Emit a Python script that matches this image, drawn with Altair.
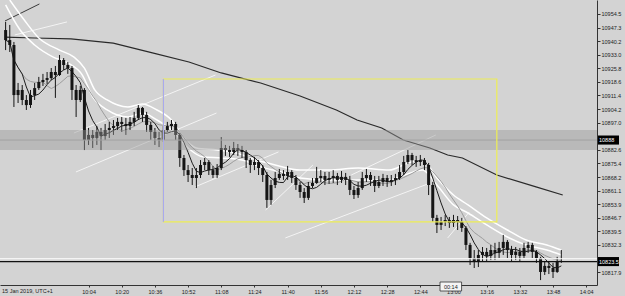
import altair as alt
import pandas as pd

# ---------------- data ----------------
start_minute = 564          # 09:24, 2-minute candles
open_first = 10946.0
close = [10940.7, 10938.1, 10911.6, 10914.3, 10909.0, 10906.3, 10911.6, 10915.3, 10918.5, 10919.6,
         10920.6, 10923.8, 10922.2, 10930.2, 10927.5, 10925.9, 10914.3, 10909.0, 10914.3, 10887.8,
         10890.5, 10888.9, 10892.1, 10889.9, 10893.1, 10894.2, 10895.2, 10897.4, 10896.3, 10895.2,
         10897.4, 10899.5, 10904.8, 10901.1, 10895.8, 10892.1, 10888.9, 10887.8, 10893.1, 10895.2,
         10896.3, 10890.5, 10878.3, 10871.9, 10869.3, 10867.7, 10869.3, 10874.6, 10876.2, 10871.9,
         10869.3, 10873.0, 10883.6, 10882.5, 10881.5, 10883.6, 10882.5, 10881.5, 10877.2, 10874.6,
         10876.2, 10873.0, 10869.3, 10856.1, 10864.0, 10867.7, 10869.9, 10868.8, 10870.9, 10867.7,
         10864.0, 10860.3, 10857.2, 10863.5, 10865.1, 10867.7, 10868.8, 10866.7, 10867.7, 10868.8,
         10866.7, 10868.3, 10866.7, 10861.4, 10858.7, 10862.4, 10867.7, 10869.3, 10866.7, 10863.5,
         10865.6, 10867.7, 10865.6, 10866.7, 10867.7, 10870.9, 10876.2, 10879.9, 10877.2, 10876.2,
         10877.2, 10874.6, 10864.0, 10846.6, 10842.9, 10844.5, 10845.5, 10843.9, 10845.5, 10844.5,
         10841.3, 10832.3, 10825.4, 10823.3, 10827.0, 10828.6, 10826.5, 10829.6, 10828.1, 10830.7,
         10833.9, 10829.6, 10827.0, 10828.6, 10826.5, 10830.7, 10832.3, 10828.6, 10825.4, 10818.0,
         10821.2, 10820.1, 10818.0, 10823.3, 10823.5]
high = [10950.3, 10948.7, 10939.7, 10918.0, 10916.9, 10911.6, 10914.3, 10918.0, 10921.2, 10922.8,
        10923.8, 10925.9, 10927.0, 10932.8, 10931.2, 10929.1, 10927.0, 10916.9, 10916.4, 10915.3,
        10894.2, 10893.1, 10895.2, 10894.2, 10896.3, 10897.4, 10898.4, 10899.5, 10900.0, 10899.5,
        10900.0, 10902.7, 10906.3, 10905.3, 10902.7, 10897.4, 10894.2, 10892.1, 10895.2, 10897.4,
        10898.4, 10897.4, 10891.5, 10879.9, 10874.6, 10873.0, 10873.0, 10877.2, 10878.3, 10877.2,
        10874.1, 10875.1, 10889.4, 10885.2, 10884.7, 10886.8, 10885.7, 10884.7, 10882.5, 10878.3,
        10878.9, 10877.2, 10874.6, 10870.9, 10866.7, 10870.9, 10872.5, 10871.9, 10874.1, 10871.9,
        10869.3, 10865.6, 10862.4, 10865.6, 10867.7, 10873.6, 10871.9, 10870.9, 10870.9, 10871.9,
        10870.4, 10871.4, 10870.4, 10868.8, 10863.5, 10865.6, 10870.9, 10872.5, 10870.9, 10868.8,
        10868.8, 10869.9, 10869.3, 10869.3, 10869.9, 10874.6, 10879.4, 10882.5, 10881.0, 10879.4,
        10879.9, 10878.3, 10875.7, 10865.6, 10848.2, 10847.1, 10848.2, 10847.1, 10848.2, 10847.6,
        10846.6, 10842.3, 10833.4, 10829.6, 10829.6, 10831.2, 10830.7, 10832.3, 10833.4, 10833.9,
        10837.6, 10834.9, 10831.8, 10831.2, 10830.7, 10833.4, 10833.9, 10833.4, 10829.6, 10826.0,
        10823.3, 10823.3, 10822.8, 10826.0, 10829.6]
low = [10935.4, 10934.4, 10905.3, 10907.4, 10906.3, 10903.7, 10904.8, 10909.0, 10914.3, 10916.4,
       10917.5, 10919.6, 10910.1, 10921.7, 10924.9, 10922.8, 10909.0, 10900.0, 10907.9, 10882.5,
       10885.2, 10883.6, 10885.2, 10882.5, 10887.8, 10888.9, 10890.5, 10893.1, 10892.1, 10890.5,
       10893.1, 10895.2, 10898.4, 10897.4, 10892.1, 10887.8, 10885.2, 10884.1, 10886.8, 10892.1,
       10893.1, 10887.8, 10873.6, 10868.8, 10865.6, 10864.0, 10862.4, 10867.7, 10871.9, 10869.3,
       10867.7, 10867.7, 10871.9, 10879.4, 10878.9, 10879.9, 10879.4, 10878.3, 10873.0, 10870.4,
       10871.9, 10869.3, 10865.6, 10851.9, 10853.5, 10862.4, 10866.7, 10866.7, 10866.7, 10865.1,
       10861.4, 10857.2, 10854.5, 10856.1, 10862.4, 10864.6, 10865.6, 10864.0, 10864.6, 10865.1,
       10864.0, 10865.1, 10864.0, 10858.7, 10856.6, 10857.2, 10861.4, 10865.6, 10863.5, 10860.3,
       10862.4, 10863.5, 10863.0, 10863.5, 10864.0, 10866.7, 10869.3, 10875.1, 10874.6, 10873.6,
       10874.1, 10871.9, 10858.7, 10844.5, 10838.6, 10840.2, 10842.3, 10841.3, 10841.8, 10840.2,
       10839.2, 10829.6, 10821.7, 10820.1, 10820.6, 10823.3, 10823.3, 10824.3, 10824.3, 10825.4,
       10827.0, 10825.4, 10823.3, 10824.3, 10823.3, 10825.4, 10828.1, 10825.4, 10822.8, 10813.7,
       10816.4, 10816.9, 10814.8, 10817.5, 10822.8]

# slow moving average
slow_t = [563.7, 577.9, 595.5, 615.9, 634.8, 652.4, 668.0, 687.0, 706.0, 723.5, 733.5, 745.4,
          755.8, 768.6, 777.2, 784.3, 800.9, 819.8, 832.7]
slow_p = [10942.3, 10941.8, 10941.3, 10939.1, 10933.9, 10929.1, 10923.3, 10918.0, 10911.1, 10903.7,
          10898.4, 10894.2, 10887.8, 10883.6, 10879.9, 10878.3, 10869.3, 10863.0, 10858.7]

# white envelope lines
env_up_t = [566, 573, 580, 590, 597, 602, 607, 613, 623, 630, 637, 644, 650, 656, 666, 675, 685,
            694, 706, 720, 734, 749, 758, 765, 772, 780, 787, 796, 806, 815, 825, 832]
env_up_p = [10961.9, 10951.3, 10941.8, 10935.4, 10931.7, 10925.9, 10914.3, 10909.0, 10905.3,
            10906.9, 10903.7, 10898.4, 10888.9, 10883.6, 10882.5, 10881.0, 10877.2, 10874.6,
            10871.9, 10871.9, 10873.0, 10871.9, 10875.7, 10877.2, 10867.7, 10858.7, 10853.5,
            10846.6, 10840.2, 10834.9, 10832.3, 10829.6]
env_lo_t = [564, 571, 578, 587, 594, 601, 606, 613, 623, 630, 637, 644, 652, 659, 668, 678, 687,
            697, 706, 720, 734, 749, 758, 765, 772, 780, 787, 796, 806, 815, 825, 832]
env_lo_p = [10959.3, 10946.0, 10938.1, 10931.7, 10928.6, 10922.2, 10910.6, 10903.7, 10900.0,
            10902.1, 10898.4, 10893.1, 10883.6, 10878.9, 10878.3, 10877.2, 10873.6, 10870.9,
            10867.7, 10866.7, 10866.7, 10866.7, 10869.9, 10871.9, 10864.0, 10853.5, 10849.2,
            10842.9, 10836.5, 10832.3, 10829.6, 10827.0]

# drawn trend lines: start time, start price, end time, end price
tl_t1 = [568.4, 596.9, 597.9, 655.3, 689.4, 698.9, 730.7, 777.2]
tl_p1 = [10943.4, 10891.5, 10870.9, 10863.0, 10850.8, 10836.0, 10869.3, 10836.0]
tl_t2 = [593.6, 665.2, 665.7, 695.6, 712.2, 767.7, 771.5, 787.6]
tl_p2 = [10950.3, 10922.2, 10902.1, 10881.5, 10874.6, 10864.6, 10890.5, 10849.7]
dark_tl = {"t1": [563.7], "p1": [10950.8], "t2": [580.3], "p2": [10959.8]}

# yellow box
box_t = [640.1, 800.9]
box_p = [10844.5, 10920.1]

# grey zone and levels
zone_lo, zone_hi, zone_mid = 10882.5, 10893.1, 10887.8
bid_price = 10823.5
ask_price = 10825.0
level_labels = ["10888", "10823.5"]
level_values = [10887.8, 10823.5]

# axis labels (10889.8 and 10825.1 lie under the level boxes in the reference)
y_ticks = [10954.5, 10947.3, 10940.2, 10933.0, 10925.8, 10918.6, 10911.4, 10904.2, 10897.0,
           10882.6, 10875.4, 10868.2, 10861.1, 10853.9, 10846.7, 10839.5, 10832.3, 10817.9]
x_tick_labels = ["10:04", "10:20", "10:36", "10:52", "11:08", "11:24", "11:40", "11:56",
                 "12:12", "12:28", "12:44", "13:00", "13:16", "13:32", "13:48", "14:04"]
date_label = "15 Jan 2019, UTC+1"
timer_label = "00:14"
timer_t = 778.7

# ---------------- chart ----------------
W, H = 597, 285
T0, T1 = 563.7, 846.8
P0, P1 = 10811.1, 10961.9
BG = "#d3d3d3"
FONT = "Liberation Sans"

n = len(close)
candles = pd.DataFrame({
    "t": [start_minute + 2 * i for i in range(n)],
    "open": [open_first] + close[:-1],
    "high": high, "low": low, "close": close,
})

x_ticks = [int(s[:2]) * 60 + int(s[3:]) for s in x_tick_labels]
xs = alt.Scale(domain=[T0, T1], nice=False, zero=False)
ys = alt.Scale(domain=[P0, P1], nice=False, zero=False)
x_axis = alt.Axis(title="", values=x_ticks, grid=False, labelFontSize=5.5, labelFont=FONT,
                  labelColor="#222222", tickSize=2, tickColor="#333333", domainColor="#333333",
                  labelPadding=2, labelOverlap=False, labelFlush=False,
                  labelExpr="floor(datum.value/60) + ':' + (datum.value % 60 < 10 ? '0' : '') + (datum.value % 60)")
y_axis = alt.Axis(title="", orient="right", values=y_ticks, format=".1f", grid=False,
                  labelFontSize=5.5, labelFont=FONT, labelColor="#222222", tickSize=3,
                  tickColor="#333333", domainColor="#333333", labelPadding=1,
                  labelOverlap=False, labelFlush=False)


def X(f):
    return alt.X(f, type="quantitative", scale=xs, axis=x_axis)


def Y(f):
    return alt.Y(f, type="quantitative", scale=ys, axis=y_axis)


base = alt.Chart(candles)

wicks = base.mark_rule(color="#151515", strokeWidth=1, clip=True).encode(
    x=X("t"), y=Y("low"), y2="high")
bodies = base.mark_bar(width=3, color="#151515", clip=True).encode(
    x=X("t"), y=Y("open"), y2="close")

ma_grey = base.transform_window(ma="mean(close)", frame=[-9, 0], sort=[{"field": "t"}]).mark_line(
    color="#9c9c9c", strokeWidth=1, clip=True).encode(x=X("t"), y=Y("ma:Q"))
ma_dark = base.transform_window(ma="mean(close)", frame=[-4, 0], sort=[{"field": "t"}]).mark_line(
    color="#1e1e1e", strokeWidth=1, clip=True).encode(x=X("t"), y=Y("ma:Q"))

slow = alt.Chart(pd.DataFrame({"t": slow_t, "p": slow_p})).mark_line(
    color="#2a2a2a", strokeWidth=1.2, clip=True).encode(x=X("t"), y=Y("p"))
env_up = alt.Chart(pd.DataFrame({"t": env_up_t, "p": env_up_p})).mark_line(
    color="#ffffff", strokeWidth=1.5, interpolate="monotone", clip=True).encode(x=X("t"), y=Y("p"))
env_lo = alt.Chart(pd.DataFrame({"t": env_lo_t, "p": env_lo_p})).mark_line(
    color="#ffffff", strokeWidth=1.5, interpolate="monotone", clip=True).encode(x=X("t"), y=Y("p"))

trend = alt.Chart(pd.DataFrame({"t1": tl_t1, "p1": tl_p1, "t2": tl_t2, "p2": tl_p2})).mark_rule(
    color="#f4f4f4", strokeWidth=1, clip=True).encode(x=X("t1"), y=Y("p1"), x2="t2", y2="p2")
trend_dark = alt.Chart(pd.DataFrame(dark_tl)).mark_rule(
    color="#3a3a3a", strokeWidth=1, clip=True).encode(x=X("t1"), y=Y("p1"), x2="t2", y2="p2")

zone_df = pd.DataFrame({"lo": [zone_lo], "hi": [zone_hi], "mid": [zone_mid]})
zone = alt.Chart(zone_df).mark_rect(color="#9a9a9a", opacity=0.45).encode(
    x=alt.value(0), x2=alt.value(W), y=Y("lo"), y2="hi")
zone_line = alt.Chart(zone_df).mark_rule(color="#a2a2a2", strokeWidth=1).encode(
    x=alt.value(0), x2=alt.value(W), y=Y("mid"))

box_df = pd.DataFrame({"t1": [box_t[0]], "t2": [box_t[1]], "p1": [box_p[0]], "p2": [box_p[1]]})
box = alt.Chart(box_df).mark_rect(fillOpacity=0, stroke="#eeee55", strokeWidth=1.2).encode(
    x=X("t1"), x2="t2", y=Y("p1"), y2="p2")
box_left = alt.Chart(box_df).mark_rule(color="#a9a9ee", strokeWidth=1.2).encode(
    x=X("t1"), y=Y("p1"), y2="p2")

price_df = pd.DataFrame({"p": [bid_price], "a": [ask_price]})
ask_line = alt.Chart(price_df).mark_rule(color="#ffffff", strokeWidth=1.2).encode(
    x=alt.value(0), x2=alt.value(W), y=Y("a"))
bid_line = alt.Chart(price_df).mark_rule(color="#111111", strokeWidth=1.2).encode(
    x=alt.value(0), x2=alt.value(W), y=Y("p"))

lvl_df = pd.DataFrame({"label": level_labels, "p": level_values})
lvl_box = alt.Chart(lvl_df).transform_calculate(
    lo="datum.p - 2.4", hi="datum.p + 2.4").mark_rect(color="#000000").encode(
    x=alt.value(W + 1), x2=alt.value(W + 22), y=Y("lo:Q"), y2="hi:Q")
lvl_text = alt.Chart(lvl_df).mark_text(align="left", baseline="middle", color="#ffffff",
                                       fontSize=5.5, font=FONT).encode(
    x=alt.value(W + 2), y=Y("p"), text="label:N")

date_text = alt.Chart(pd.DataFrame({"s": [date_label]})).mark_text(
    align="left", baseline="middle", fontSize=5.5, font=FONT, color="#222222").encode(
    x=alt.value(2), y=alt.value(H + 6), text="s:N")

timer_df = pd.DataFrame({"s": [timer_label], "t": [timer_t], "t1": [timer_t - 5.2], "t2": [timer_t + 5.2]})
timer_box = alt.Chart(timer_df).mark_rect(color="#f4f4f4", stroke="#333333", strokeWidth=0.8).encode(
    x=X("t1"), x2="t2", y=alt.value(H - 3), y2=alt.value(H + 6))
timer_text = alt.Chart(timer_df).mark_text(baseline="middle", fontSize=5.5, font=FONT,
                                           color="#222222").encode(
    x=X("t"), y=alt.value(H + 1.5), text="s:N")

chart = alt.layer(
    trend_dark, trend, slow, env_up, env_lo, ma_grey, ma_dark, wicks, bodies,
    zone, zone_line, box, box_left, ask_line, bid_line, lvl_box, lvl_text,
    date_text, timer_box, timer_text,
).properties(
    width=W, height=H, autosize="none",
    padding={"left": 0, "top": 0, "right": 625 - W, "bottom": 296 - H},
    background=BG,
).configure_view(strokeWidth=0, fill=BG)

chart.save("out.html", embed_options={"renderer": "svg", "actions": False})
